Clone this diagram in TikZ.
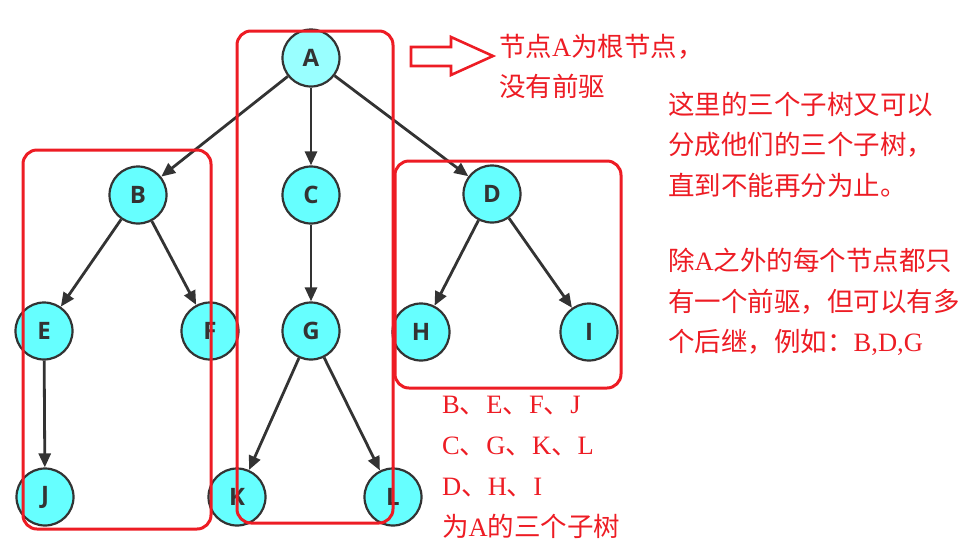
\documentclass[tikz,border=0pt]{standalone}
\usepackage{fontspec}
\setmainfont{Liberation Serif}
\newfontfamily\cjk{Noto Sans CJK SC}
\newfontfamily\nodefont{Open Sans}
\usetikzlibrary{arrows.meta}
\definecolor{redline}{RGB}{237,28,36}
\definecolor{nodefill}{RGB}{102,255,255}
\definecolor{rootfill}{RGB}{153,255,255}
\definecolor{dark}{RGB}{51,51,51}
\tikzset{
  treenode/.style={circle, draw=dark, line width=2.2pt, fill=nodefill, minimum size=57pt, inner sep=0pt,
    font=\nodefont\bfseries\fontsize{24}{24}\selectfont, text=dark},
  rootnode/.style={treenode, fill=rootfill},
  edge/.style={draw=dark, line width=2.8pt, -{Triangle[length=14pt,width=12pt]}},
  redbox/.style={draw=redline, line width=3pt, rounded corners=14pt},
  note/.style={anchor=base west, inner sep=0pt, text=redline, font=\fontsize{26.5}{30}\selectfont}
}
\begin{document}
\begin{tikzpicture}[x=1pt,y=-1pt]
\useasboundingbox (0,0) rectangle (970,558);
% nodes
\node[rootnode] (A) at (311,58) {A};
\node[treenode] (B) at (138,195) {B};
\node[treenode] (C) at (311,195) {C};
\node[treenode] (D) at (492,194) {D};
\node[treenode] (E) at (44,331) {E};
\node[treenode] (F) at (210,331) {F};
\node[treenode] (G) at (311,331) {G};
\node[treenode] (H) at (421,332) {H};
\node[treenode] (I) at (589,332) {I};
\node[treenode] (J) at (45,497) {J};
\node[treenode] (K) at (237,497) {K};
\node[treenode] (L) at (393,497) {L};
% edges
\draw[edge] (A) -- (B);
\draw[edge] (A) -- (C);
\draw[edge] (A) -- (D);
\draw[edge] (B) -- (E);
\draw[edge] (B) -- (F);
\draw[edge] (C) -- (G);
\draw[edge] (D) -- (H);
\draw[edge] (D) -- (I);
\draw[edge] (E) -- (J);
\draw[edge] (G) -- (K);
\draw[edge] (G) -- (L);
% red boxes
\draw[redbox] (23,150) rectangle (211,529);
\draw[redbox] (237,31) rectangle (393,523);
\draw[redbox] (395,161) rectangle (621,388);
% hollow arrow
\draw[draw=redline, line width=2.6pt, fill=white, line join=miter]
  (411,47) -- (451,47) -- (451,37) -- (493,56) -- (451,75) -- (451,66) -- (411,66) -- cycle;
% texts
\node[note] (t1) at (499,56) {{\cjk 节点}A{\cjk 为根节点，}};
\node[note] (t2) at (499,96) {{\cjk 没有前驱}};
\node[note] (r1) at (668,114.5) {{\cjk 这里的三个子树又可以}};
\node[note] (r2) at (668,154.5) {{\cjk 分成他们的三个子树，}};
\node[note] (r3) at (668,195.5) {{\cjk 直到不能再分为止。}};
\node[note] (r4) at (668,270) {{\cjk 除}A{\cjk 之外的每个节点都只}};
\node[note] (r5) at (668,311) {{\cjk 有一个前驱，但可以有多}};
\node[note] (r6) at (668,351.5) {{\cjk 个后继，例如：}B,D,G};
\node[note] (b1) at (442,413) {B{\cjk 、}E{\cjk 、}F{\cjk 、}J};
\node[note] (b2) at (442,454) {C{\cjk 、}G{\cjk 、}K{\cjk 、}L};
\node[note] (b3) at (442,495) {D{\cjk 、}H{\cjk 、}I};
\node[note] (b4) at (442,536) {{\cjk 为}A{\cjk 的三个子树}};
\end{tikzpicture}
\end{document}
